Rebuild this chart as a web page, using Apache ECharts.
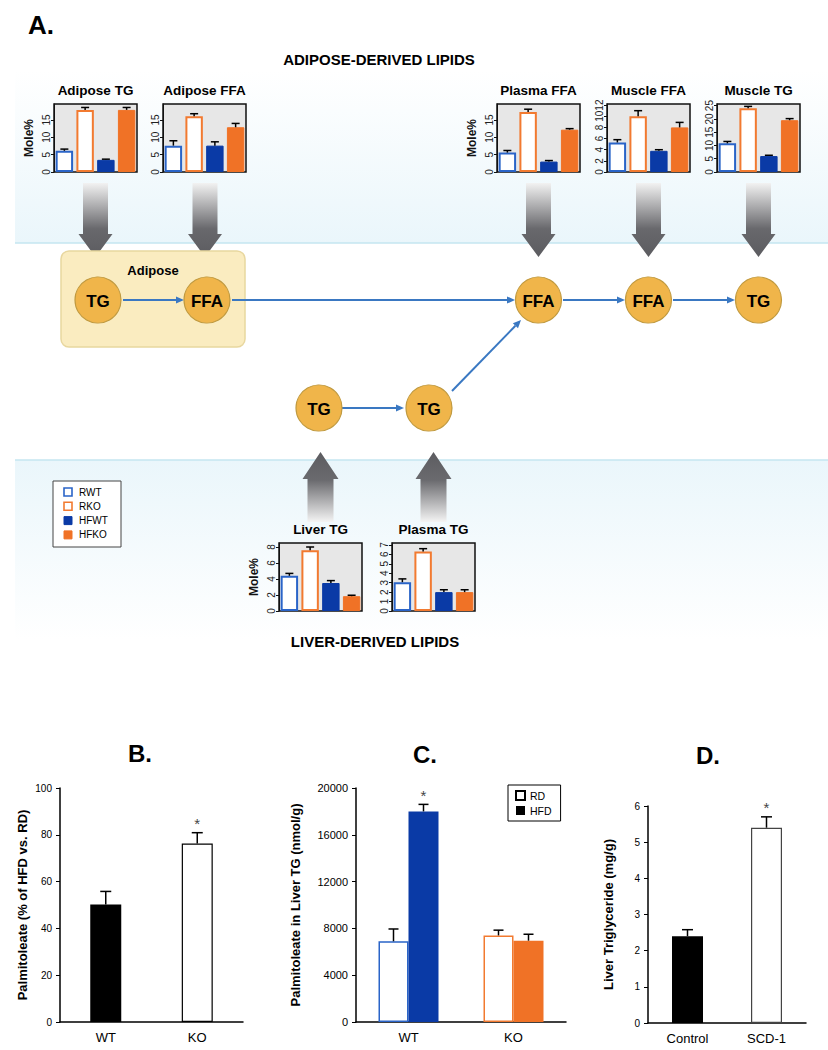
<!DOCTYPE html>
<html><head><meta charset="utf-8">
<script src="https://cdn.jsdelivr.net/npm/echarts@6/dist/echarts.min.js"></script>
<style>html,body{margin:0;padding:0;background:#fff}#c{width:828px;height:1050px}</style>
</head><body><div id="c"></div>
<script>
// ---------- DATA ----------
const groups = ['RWT', 'RKO', 'HFWT', 'HFKO'];
const adiposeTG = [6.1, 17.9, 3.5, 17.9];
const adiposeTGErr = [0.5, 0.7, 0.2, 0.7];
const adiposeFFA = [7.6, 16.1, 7.6, 12.9];
const adiposeFFAErr = [1.4, 0.7, 1.1, 1.1];
const plasmaFFA = [5.6, 17.3, 3.0, 12.2];
const plasmaFFAErr = [0.6, 0.8, 0.3, 0.3];
const muscleFFA = [5.3, 10.0, 3.8, 8.0];
const muscleFFAErr = [0.5, 1.0, 0.2, 0.9];
const muscleTG = [10.8, 24.0, 6.0, 19.5];
const muscleTGErr = [0.7, 0.7, 0.3, 0.6];
const liverTG = [4.4, 7.6, 3.5, 1.85];
const liverTGErr = [0.3, 0.4, 0.3, 0.12];
const plasmaTG = [3.05, 6.3, 2.0, 2.0];
const plasmaTGErr = [0.35, 0.3, 0.25, 0.25];

const ticksMole15 = [0, 5, 10, 15];
const ticksMuscleFFA = [0, 2, 4, 6, 8, 10, 12];
const ticksMuscleTG = [0, 5, 10, 15, 20, 25];
const ticksLiverTG = [0, 2, 4, 6, 8];
const ticksPlasmaTG = [0, 1, 2, 3, 4, 5, 6, 7];

const genotypes = ['WT', 'KO'];
const palmitoleatePct = [50.2, 76.3];
const palmitoleatePctErr = [5.6, 4.6];
const palmitoleatePctSig = [false, true];

const diets = ['RD', 'HFD'];
const liverPalmRD = [6900, 7400];
const liverPalmRDErr = [1050, 450];
const liverPalmHFD = [18000, 6950];
const liverPalmHFDErr = [600, 550];
const liverPalmHFDSig = [true, false];

const treatments = ['Control', 'SCD-1'];
const liverTrig = [2.4, 5.4];
const liverTrigErr = [0.18, 0.3];
const liverTrigSig = [false, true];

// ---------- STYLE / LAYOUT ----------
const FONT = '"Liberation Sans", Arial, Helvetica, sans-serif';
const BLUE_FILL = '#0a3aa6', BLUE_LINE = '#2a64c8';
const OR_FILL = '#f07226', OR_LINE = '#f27a30';
const groupStyles = [
  {color: '#ffffff', borderColor: BLUE_LINE, borderWidth: 2},
  {color: '#ffffff', borderColor: OR_LINE, borderWidth: 2},
  {color: BLUE_FILL, borderColor: BLUE_FILL, borderWidth: 1},
  {color: OR_FILL, borderColor: OR_FILL, borderWidth: 1}
];

const miniPanels = [
  {title: 'Adipose TG', vals: adiposeTG, errs: adiposeTGErr, ticks: ticksMole15, max: 19.6, left: 54, top: 104, mole: true},
  {title: 'Adipose FFA', vals: adiposeFFA, errs: adiposeFFAErr, ticks: ticksMole15, max: 19.6, left: 163, top: 104},
  {title: 'Plasma FFA', vals: plasmaFFA, errs: plasmaFFAErr, ticks: ticksMole15, max: 19.6, left: 497, top: 104, mole: true},
  {title: 'Muscle FFA', vals: muscleFFA, errs: muscleFFAErr, ticks: ticksMuscleFFA, max: 12.2, left: 607, top: 104},
  {title: 'Muscle TG', vals: muscleTG, errs: muscleTGErr, ticks: ticksMuscleTG, max: 25.6, left: 717, top: 104},
  {title: 'Liver TG', vals: liverTG, errs: liverTGErr, ticks: ticksLiverTG, max: 8.5, left: 279, top: 543, mole: true},
  {title: 'Plasma TG', vals: plasmaTG, errs: plasmaTGErr, ticks: ticksPlasmaTG, max: 7.2, left: 392, top: 543}
];
const MINI_W = 83, MINI_H = 68;

function errorSeries(idx, vals, errs, o) {
  return {
    type: 'custom', xAxisIndex: idx, yAxisIndex: idx, z: 5, silent: true,
    data: vals.map((v, i) => [i, v, errs[i], (o.sig && o.sig[i]) ? 1 : 0]),
    encode: {x: 0, y: 1},
    renderItem: function (params, api) {
      const i = api.value(0), v = api.value(1), e = api.value(2), s = api.value(3);
      const p0 = api.coord([i, v]);
      const p1 = api.coord([i, v + e]);
      const x = p0[0] + (o.dx || 0);
      const hw = o.cap / 2, lw = o.lw || 1.5;
      const children = [
        {type: 'line', shape: {x1: x, y1: p0[1], x2: x, y2: p1[1]}, style: {stroke: '#000', lineWidth: lw}},
        {type: 'line', shape: {x1: x - hw, y1: p1[1], x2: x + hw, y2: p1[1]}, style: {stroke: '#000', lineWidth: lw}}
      ];
      if (s) children.push({type: 'text', x: x, y: p1[1] - 9,
        style: {text: '*', fill: '#444', font: '15px ' + FONT, align: 'center', verticalAlign: 'middle', textAlign: 'center', textVerticalAlign: 'middle'}});
      return {type: 'group', children: children};
    }
  };
}

const grids = [], xAxes = [], yAxes = [], series = [];
miniPanels.forEach((m, i) => {
  grids.push({left: m.left, top: m.top, width: MINI_W, height: MINI_H, show: true,
    backgroundColor: '#e7e7e7', borderColor: '#111', borderWidth: 1.5, containLabel: false, outerBoundsMode: 'none'});
  xAxes.push({gridIndex: i, type: 'category', data: groups, axisLine: {show: false}, axisTick: {show: false},
    axisLabel: {show: false}, splitLine: {show: false}});
  yAxes.push({gridIndex: i, type: 'value', min: 0, max: m.max,
    axisLine: {show: true, lineStyle: {color: '#111', width: 1}},
    axisTick: {show: true, length: 3, inside: false, lineStyle: {color: '#111', width: 1}, customValues: m.ticks},
    axisLabel: {rotate: 90, fontSize: 10, color: '#222', margin: 3, fontFamily: FONT, customValues: m.ticks},
    splitLine: {show: false},
    name: m.mole ? 'Mole%' : '', nameLocation: 'middle', nameGap: 19, nameRotate: 90,
    nameTextStyle: {fontWeight: 'bold', fontSize: 12, color: '#111', fontFamily: FONT}});
  series.push({type: 'bar', xAxisIndex: i, yAxisIndex: i, barWidth: '84%', silent: true,
    data: m.vals.map((v, j) => ({value: v, itemStyle: groupStyles[j]}))});
  series.push(errorSeries(i, m.vals, m.errs, {cap: 8, lw: 1.5}));
});

function bottomAxes(idx, cats, max, interval, name, nameGap, tickFs) {
  xAxes.push({gridIndex: idx, type: 'category', data: cats,
    axisLine: {show: true, lineStyle: {color: '#000', width: 1.5}}, axisTick: {show: false},
    axisLabel: {fontSize: 13, color: '#000', margin: 9, fontFamily: FONT}, splitLine: {show: false}});
  yAxes.push({gridIndex: idx, type: 'value', min: 0, max: max, interval: interval,
    axisLine: {show: true, lineStyle: {color: '#000', width: 1.5}},
    axisTick: {show: true, length: 4, lineStyle: {color: '#000', width: 1}},
    axisLabel: {fontSize: tickFs, color: '#000', margin: 8, fontFamily: FONT, formatter: v => String(v)},
    splitLine: {show: false},
    name: name, nameLocation: 'middle', nameGap: nameGap, nameRotate: 90,
    nameTextStyle: {fontWeight: 'bold', fontSize: 13, color: '#000', fontFamily: FONT}});
}

// Panel B
grids.push({left: 60, top: 788, width: 183, height: 234, containLabel: false, outerBoundsMode: 'none'});
bottomAxes(7, genotypes, 100, 20, 'Palmitoleate (% of HFD vs. RD)', 31, 10);
series.push({type: 'bar', xAxisIndex: 7, yAxisIndex: 7, barWidth: 31, silent: true,
  data: palmitoleatePct.map((v, j) => ({value: v, itemStyle: j === 0 ? {color: '#000'} : {color: '#fff', borderColor: '#000', borderWidth: 1.2}}))});
series.push(errorSeries(7, palmitoleatePct, palmitoleatePctErr, {cap: 11, sig: palmitoleatePctSig}));

// Panel C
grids.push({left: 356, top: 788, width: 210, height: 234, containLabel: false, outerBoundsMode: 'none'});
bottomAxes(8, genotypes, 20000, 4000, 'Palmitoleate in Liver TG (nmol/g)', 54, 11);
series.push({name: diets[0], type: 'bar', xAxisIndex: 8, yAxisIndex: 8, barWidth: 30, barGap: '0%', silent: true,
  itemStyle: {color: '#fff', borderColor: '#000', borderWidth: 1},
  data: liverPalmRD.map((v, j) => ({value: v, itemStyle: {color: '#fff', borderColor: j === 0 ? BLUE_LINE : OR_LINE, borderWidth: 1.5}}))});
series.push({name: diets[1], type: 'bar', xAxisIndex: 8, yAxisIndex: 8, barWidth: 30, barGap: '0%', silent: true,
  itemStyle: {color: '#000'},
  data: liverPalmHFD.map((v, j) => ({value: v, itemStyle: {color: j === 0 ? BLUE_FILL : OR_FILL}}))});
series.push(errorSeries(8, liverPalmRD, liverPalmRDErr, {cap: 10, dx: -15}));
series.push(errorSeries(8, liverPalmHFD, liverPalmHFDErr, {cap: 10, dx: 15, sig: liverPalmHFDSig}));

// Panel D
grids.push({left: 648, top: 806, width: 158, height: 217, containLabel: false, outerBoundsMode: 'none'});
bottomAxes(9, treatments, 6, 1, 'Liver Triglyceride (mg/g)', 33, 10);
series.push({type: 'bar', xAxisIndex: 9, yAxisIndex: 9, barWidth: 31, silent: true,
  data: liverTrig.map((v, j) => ({value: v, itemStyle: j === 0 ? {color: '#000'} : {color: '#fff', borderColor: '#444', borderWidth: 1.2}}))});
series.push(errorSeries(9, liverTrig, liverTrigErr, {cap: 11, sig: liverTrigSig}));

// ---------- DIAGRAM GRAPHICS ----------
const G = [];
function txt(x, y, text, font, fill, z) {
  G.push({type: 'text', x: x, y: y, z: z || 10, silent: true,
    style: {text: text, font: font, fill: fill || '#000', align: 'center', verticalAlign: 'middle', textAlign: 'center', textVerticalAlign: 'middle'}});
}
// light blue bands
G.push({type: 'rect', z: -10, silent: true, shape: {x: 15, y: 70, width: 813, height: 173},
  style: {fill: {type: 'linear', x: 0, y: 0, x2: 0, y2: 1, colorStops: [{offset: 0, color: '#ffffff'}, {offset: 1, color: '#eaf6fb'}]}}});
G.push({type: 'line', z: -9, silent: true, shape: {x1: 15, y1: 243, x2: 828, y2: 243}, style: {stroke: '#c4e6f0', lineWidth: 1.5}});
G.push({type: 'rect', z: -10, silent: true, shape: {x: 15, y: 460, width: 813, height: 180},
  style: {fill: {type: 'linear', x: 0, y: 0, x2: 0, y2: 1, colorStops: [{offset: 0, color: '#eaf6fb'}, {offset: 1, color: '#ffffff'}]}}});
G.push({type: 'line', z: -9, silent: true, shape: {x1: 15, y1: 460, x2: 828, y2: 460}, style: {stroke: '#c4e6f0', lineWidth: 1.5}});

// gray arrows
function downArrow(cx) {
  G.push({type: 'polygon', silent: true, shape: {points: [[cx - 12.5, 183], [cx + 12.5, 183], [cx + 12.5, 234], [cx + 17, 234], [cx, 257], [cx - 17, 234], [cx - 12.5, 234]]},
    style: {fill: {type: 'linear', x: 0, y: 0, x2: 0, y2: 1, colorStops: [{offset: 0, color: '#f2f2f2'}, {offset: 0.62, color: '#68686c'}, {offset: 1, color: '#5c5c60'}]}}});
}
function upArrow(cx) {
  G.push({type: 'polygon', silent: true, shape: {points: [[cx, 452], [cx + 18, 479], [cx + 13, 479], [cx + 13, 522], [cx - 13, 522], [cx - 13, 479], [cx - 18, 479]]},
    style: {fill: {type: 'linear', x: 0, y: 0, x2: 0, y2: 1, colorStops: [{offset: 0, color: '#5c5c60'}, {offset: 0.4, color: '#6a6a6e'}, {offset: 1, color: '#f4f4f4'}]}}});
}
[95.5, 205, 538.5, 648.5, 758.5].forEach(downArrow);
[320.5, 433.5].forEach(upArrow);

// adipose box
G.push({type: 'rect', silent: true, shape: {x: 61, y: 251, width: 184, height: 96, r: 8},
  style: {fill: '#faecc0', stroke: '#e8d79f', lineWidth: 1.5}});
txt(153, 270, 'Adipose', 'bold 13px ' + FONT);

// flow arrows
function flow(x1, y1, x2, y2) {
  const dx = x2 - x1, dy = y2 - y1, L = Math.sqrt(dx * dx + dy * dy);
  const ux = dx / L, uy = dy / L, hl = 8, hw = 3.6;
  const bx = x2 - ux * hl, by = y2 - uy * hl;
  G.push({type: 'line', silent: true, shape: {x1: x1, y1: y1, x2: bx, y2: by}, style: {stroke: '#3a78c2', lineWidth: 2}});
  G.push({type: 'polygon', silent: true, shape: {points: [[x2, y2], [bx - uy * hw, by + ux * hw], [bx + uy * hw, by - ux * hw]]},
    style: {fill: '#3a78c2'}});
}
flow(123, 300, 184, 300);
flow(232, 300, 515, 300);
flow(563, 300, 625, 300);
flow(673, 300, 735, 300);
flow(342, 408, 404, 408);
flow(452, 391, 521, 320);

// nodes
function node(cx, cy, label) {
  G.push({type: 'circle', silent: true, shape: {cx: cx, cy: cy, r: 23}, style: {fill: '#f0b54a', stroke: '#c09a40', lineWidth: 1.2}});
  txt(cx, cy + 1, label, 'bold 17px ' + FONT, '#000', 12);
}
node(98, 300, 'TG'); node(207, 300, 'FFA'); node(538.5, 300, 'FFA'); node(648.5, 300, 'FFA'); node(758.5, 300, 'TG');
node(319, 408, 'TG'); node(429, 408, 'TG');

// headings
txt(41, 25, 'A.', 'bold 26px ' + FONT);
txt(379, 59, 'ADIPOSE-DERIVED LIPIDS', 'bold 15px ' + FONT);
txt(375, 641, 'LIVER-DERIVED LIPIDS', 'bold 15px ' + FONT);
miniPanels.forEach(m => txt(m.left + MINI_W / 2, m.top - 14, m.title, 'bold 13.5px ' + FONT));
txt(140, 753, 'B.', 'bold 24px ' + FONT);
txt(425, 754, 'C.', 'bold 24px ' + FONT);
txt(708, 755, 'D.', 'bold 24px ' + FONT);

// diagram legend
G.push({type: 'rect', silent: true, shape: {x: 53, y: 481, width: 68, height: 66}, style: {fill: '#fff', stroke: '#444', lineWidth: 1}});
groups.forEach((g, j) => {
  const y = 492 + j * 14.3;
  const st = groupStyles[j];
  G.push({type: 'rect', silent: true, z: 11, shape: {x: 64, y: y - 4, width: 8, height: 8},
    style: {fill: st.color, stroke: st.borderColor, lineWidth: j < 2 ? 1.6 : 1}});
  G.push({type: 'text', x: 79, y: y, z: 11, silent: true,
    style: {text: g, font: '10px ' + FONT, fill: '#000', align: 'left', verticalAlign: 'middle', textAlign: 'left', textVerticalAlign: 'middle'}});
});

const chart = echarts.init(document.getElementById('c'), null, {renderer: 'svg', width: 828, height: 1050});
chart.setOption({
  animation: false,
  backgroundColor: '#ffffff',
  textStyle: {fontFamily: FONT},
  grid: grids, xAxis: xAxes, yAxis: yAxes, series: series,
  legend: [{data: diets, left: 508, top: 785, orient: 'vertical', itemWidth: 9, itemHeight: 9, itemGap: 4,
    padding: [5, 9, 5, 7], borderColor: '#000', borderWidth: 1, icon: 'rect', selectedMode: false,
    textStyle: {fontSize: 10.5, color: '#000', fontFamily: FONT}}],
  graphic: G
});
</script></body></html>
